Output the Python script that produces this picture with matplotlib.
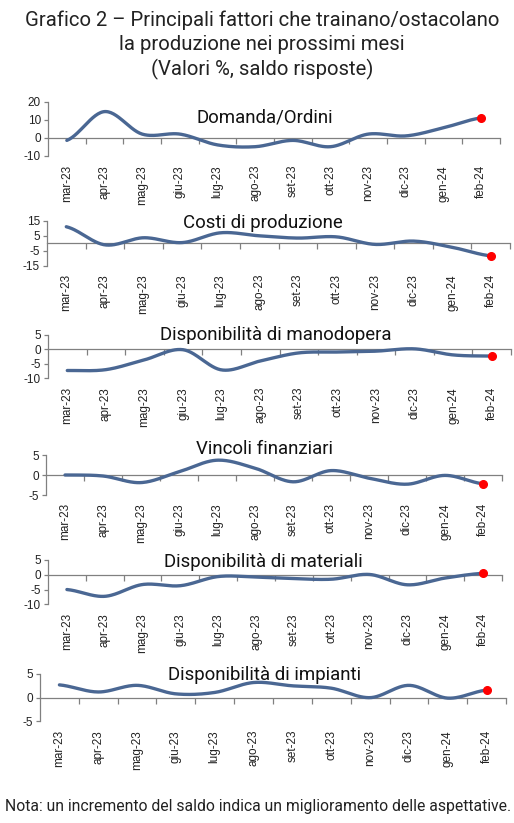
import numpy as np
import matplotlib
matplotlib.use("Agg")
import matplotlib.pyplot as plt
from matplotlib.transforms import blended_transform_factory

months = ["mar-23", "apr-23", "mag-23", "giu-23", "lug-23", "ago-23",
          "set-23", "ott-23", "nov-23", "dic-23", "gen-24", "feb-24"]

domanda = [-1.5, 14.5, 2, 2, -4, -5, -1.5, -5, 2, 1, 5.5, 11]
costi = [11, -1, 3.7, 0.5, 7, 5, 3.5, 4.3, -0.7, 1.5, -2.6, -8.3]
manodopera = [-7.3, -7, -3.6, -0.1, -7.1, -4, -1.2, -0.9, -0.6, 0.2, -1.9, -2.3]
vincoli = [0, -0.25, -1.9, 0.8, 3.7, 1.7, -1.7, 1.1, -0.8, -2.3, -0.1, -2.2]
materiali = [-5, -7.3, -3.3, -3.7, -0.6, -0.8, -1.3, -1.5, 0.1, -3.4, -1.1, 0.5]
impianti = [2.7, 1.2, 2.6, 0.8, 1.1, 3.2, 2.5, 2.0, 0, 2.6, -0.1, 1.6]

titles = ["Domanda/Ordini", "Costi di produzione", "Disponibilità di manodopera",
          "Vincoli finanziari", "Disponibilità di materiali", "Disponibilità di impianti"]
series = [domanda, costi, manodopera, vincoli, materiali, impianti]
yticks = [[-10, 0, 10, 20], [-15, -5, 5, 15], [-10, -5, 0, 5],
          [-5, 0, 5], [-10, -5, 0, 5], [-5, 0, 5]]

# layout in pixels: (left, right, top_y, bottom_y, label_top_y, title_x, title_y)
W, H = 514, 823
layout = [
    (48, 500, 101.7, 155.7, 165, 265, 117),
    (47, 510, 220.7, 266.0, 274, 263, 223),
    (48, 511, 335.0, 378.3, 387, 276, 335),
    (46, 502, 455.0, 495.0, 503, 264, 449),
    (48, 502, 560.0, 604.3, 613, 263, 562),
    (40, 506, 674.0, 721.3, 730, 265, 675),
]

LINE = "#4A6793"
SPINE = "#808080"


def smooth(x, y, n=30):
    """Catmull-Rom style smoothing (as Excel smoothed lines)."""
    x = np.asarray(x, float)
    y = np.asarray(y, float)
    px = np.concatenate([[2 * x[0] - x[1]], x, [2 * x[-1] - x[-2]]])
    py = np.concatenate([[y[0]], y, [y[-1]]])
    xs, ys = [], []
    t = np.linspace(0, 1, n)
    for i in range(1, len(px) - 2):
        p0, p1, p2, p3 = (np.array([px[j], py[j]]) for j in (i - 1, i, i + 1, i + 2))
        c1 = p1 + (p2 - p0) / 6
        c2 = p2 - (p3 - p1) / 6
        b = ((1 - t) ** 3)[:, None] * p1 + (3 * (1 - t) ** 2 * t)[:, None] * c1 \
            + (3 * (1 - t) * t ** 2)[:, None] * c2 + (t ** 3)[:, None] * p2
        xs.append(b[:, 0])
        ys.append(b[:, 1])
    return np.concatenate(xs), np.concatenate(ys)


fig = plt.figure(figsize=(W / 100, H / 100), dpi=100)
fig.patch.set_facecolor("white")

tick_font = dict(family=["Liberation Sans", "DejaVu Sans"], size=8.5, color="#222222")

for k, (vals, ttl, yt, lay) in enumerate(zip(series, titles, yticks, layout)):
    l, r, top, bot, lab_top, tx, ty = lay
    ax = fig.add_axes([l / W, 1 - bot / H, (r - l) / W, (bot - top) / H])
    x = np.arange(len(months))
    sx, sy = smooth(x, vals)
    ax.plot(sx, sy, color=LINE, lw=2.4, solid_capstyle="round", zorder=3)
    ax.plot(x[-1], vals[-1], "o", color="#FF0000", ms=5.5, zorder=4)
    ax.set_xlim(-0.5, len(months) - 0.5)
    ax.set_ylim(yt[0], yt[-1])
    ax.set_yticks(yt)
    ax.set_yticklabels([str(v) for v in yt], fontdict=tick_font)
    ax.tick_params(axis="y", length=3, width=0.9, color=SPINE, pad=2)
    ax.set_xticks(np.arange(len(months)) + 0.5)
    ax.set_xticklabels([])
    ax.tick_params(axis="x", length=4, width=0.9, color=SPINE, direction="out")
    for s in ("top", "right"):
        ax.spines[s].set_visible(False)
    ax.spines["left"].set_color(SPINE)
    ax.spines["left"].set_linewidth(0.9)
    ax.spines["bottom"].set_position(("data", 0))
    ax.spines["bottom"].set_color(SPINE)
    ax.spines["bottom"].set_linewidth(0.9)
    ax.patch.set_alpha(0)
    trans = blended_transform_factory(ax.transData, ax.transAxes)
    ylab = -(lab_top - bot) / (bot - top)
    for i, m in enumerate(months):
        ax.text(i, ylab, m, transform=trans, rotation=90, ha="center", va="top",
                fontdict=tick_font, clip_on=False)
    fig.text(tx / W, 1 - ty / H, ttl, ha="center", va="center",
             family=["Roboto", "DejaVu Sans"], fontsize=13.4, color="#111111",
             zorder=5)

title_font = dict(family=["Roboto", "DejaVu Sans"], color="#222222")
tcx = 262 / W
fig.text(tcx, 1 - 20 / H, "Grafico 2 – Principali fattori che trainano/ostacolano",
         ha="center", va="center", fontsize=14.6, **title_font)
fig.text(tcx, 1 - 44 / H, "la produzione nei prossimi mesi",
         ha="center", va="center", fontsize=14.6, **title_font)
fig.text(tcx, 1 - 69 / H, "(Valori %, saldo risposte)",
         ha="center", va="center", fontsize=14.6, **title_font)
fig.text(5 / W, 1 - 806 / H,
         "Nota: un incremento del saldo indica un miglioramento delle aspettative.",
         ha="left", va="center", fontsize=11.3, **title_font)

fig.savefig("out.png", dpi=100, facecolor="white")
